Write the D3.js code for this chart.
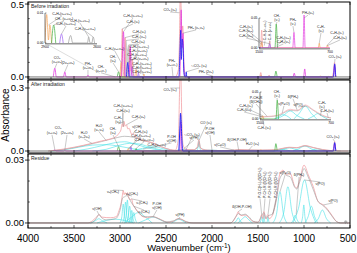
<!DOCTYPE html>
<html>
<head>
<meta charset="utf-8">
<script src="https://cdn.jsdelivr.net/npm/d3@7"></script>
<style>
body { margin: 0; background: #fff; }
svg { display: block; }
</style>
</head>
<body>
<script>
// ---- Before irradiation (wavenumber, absorbance) ----
var beforePink = [[3000,0],[2985,0.06],[2975,0.33],[2965,0.05],[2952,0],[2945,0.27],[2935,0.05],[2905,0.03],[2890,0.2],[2880,0.04],[2865,0.12],[2855,0.02],[2840,0],
  [2400,0],[2365,0.05],[2352,0.3],[2345,0.56],[2338,0.52],[2330,0.3],[2318,0.35],[2305,0.08],[2290,0],[2000,0],[1990,0.005],[1980,0],
  [1482,0],[1470,0.03],[1458,0],[1392,0],[1380,0.012],[1368,0],[700,0],[680,0.03],[668,0.1],[660,0.03],[650,0]];
var beforeMagenta = [[3725,0],[3708,0.06],[3692,0],[3615,0],[3600,0.035],[3585,0],[3360,0],[3348,0.013],[3336,0],
  [2985,0],[2962,0.31],[2950,0.06],[2940,0],[2900,0],[2888,0.21],[2876,0.03],[2860,0],
  [2350,0],[2335,0.46],[2326,0.2],[2316,0.3],[2305,0.05],[2295,0],[1120,0],[1106,0.026],[1092,0],[1005,0],[992,0.055],[980,0],[680,0],[668,0.08],[656,0]];
var beforeBlue = [[2930,0],[2915,0.1],[2900,0],[2360,0],[2348,0.18],[2340,0.32],[2333,0.12],[2324,0.26],[2314,0.2],[2305,0.03],[2295,0],
  [2286,0],[2280,0.035],[2274,0],[680,0],[667,0.09],[655,0]];
var beforeGreen = [[3030,0],[3015,0.035],[3000,0],[1320,0],[1306,0.04],[1292,0]];
var beforeOrange = [[3000,0],[2988,0.1],[2978,0],[2840,0],[2828,0.05],[2815,0],[2750,0],[2740,0.02],[2730,0],
  [1482,0],[1470,0.01],[1458,0],[832,0],[821,0.008],[810,0],[740,0],[730,0.005],[720,0]];
var beforePurple = [[2880,0],[2868,0.07],[2855,0],[2810,0],[2800,0.03],[2790,0],[1392,0],[1380,0.007],[1368,0]];
var beforeGray = [[2955,0],[2935,0.25],[2920,0.18],[2905,0.22],[2890,0]];

// left inset of the first panel
var insetOrange = [[2900,0],[2890,0.0095],[2880,0.001],[2872,0.006],[2862,0]];
var insetGreen = [[2862,0],[2850,0.006],[2838,0]];
var insetPurple = [[2815,0],[2805,0.003],[2795,0]];
var insetGray = [[2765,0],[2752,0.0025],[2740,0],[2655,0],[2648,0.002],[2640,0],[2630,0],[2622,0.002],[2614,0]];

// ---- After irradiation ----
var afterRed = [[3780,0],[3700,0.004],[3600,0.01],[3500,0.018],[3400,0.027],[3300,0.037],[3200,0.048],[3100,0.058],[3040,0.07],[3010,0.085],
  [2990,0.1],[2975,0.13],[2965,0.115],[2955,0.14],[2945,0.118],[2930,0.125],[2915,0.105],[2900,0.108],[2885,0.09],[2870,0.078],[2855,0.085],
  [2840,0.07],[2800,0.06],[2750,0.05],[2700,0.045],[2650,0.04],[2600,0.03],[2550,0.02],[2500,0.012],[2450,0.006],[2400,0.004],
  [2365,0.06],[2352,0.3],[2345,0.4],[2338,0.36],[2328,0.15],[2315,0.03],[2290,0.01],[2250,0.006],[2200,0.006],[2160,0.02],[2142,0.055],
  [2130,0.02],[2100,0.006],[2050,0.004],[2000,0.003],[1900,0.002],[1800,0.003],[1750,0.005],[1720,0.007],[1650,0.006],[1600,0.005],
  [1500,0.004],[1400,0.005],[1300,0.007],[1250,0.011],[1160,0.018],[1080,0.016],[990,0.026],[900,0.017],[850,0.012],[750,0.004],
  [700,0.002],[680,0.01],[667,0.045],[655,0.01],[640,0],[520,0]];
var afterGray = [[3780,0],[3600,0.008],[3400,0.025],[3200,0.045],[3050,0.062],[2950,0.07],[2850,0.065],[2750,0.05],[2650,0.038],[2550,0.02],
  [2450,0.006],[2400,0.002],[2300,0.006],[2200,0.006],[2150,0.02],[2140,0.045],[2125,0.015],[2050,0.004],[1900,0.002],[1750,0.004],
  [1700,0.006],[1600,0.005],[1450,0.004],[1300,0.006],[1160,0.016],[1080,0.015],[990,0.024],[900,0.016],[800,0.006],[700,0.002],[600,0]];
var afterBlue = [[2360,0],[2348,0.12],[2342,0.18],[2336,0.15],[2328,0.06],[2318,0],[680,0],[667,0.04],[655,0]];
var afterMagenta = [[3720,0],[3708,0.006],[3696,0],[3612,0],[3600,0.004],[3588,0],[2350,0],[2340,0.14],[2330,0],[680,0],[667,0.035],[655,0]];
var afterPurple = [[2890,0],[2880,0.02],[2870,0],[2290,0],[2280,0.008],[2270,0]];
var afterGreen = [[3030,0],[3015,0.02],[3000,0],[2835,0],[2825,0.012],[2815,0],[1320,0],[1306,0.035],[1292,0]];
var afterOrange = [[2920,0],[2910,0.012],[2900,0],[1482,0],[1470,0.006],[1458,0]];
var afterCyan = [
  [[3750,0],[3600,0.006],[3450,0.018],[3300,0.028],[3150,0.03],[3000,0.022],[2850,0.01],[2700,0.002],[2600,0]],
  [[3500,0],[3350,0.01],[3200,0.025],[3050,0.04],[2950,0.044],[2850,0.035],[2700,0.015],[2550,0.003],[2450,0]],
  [[3300,0],[3150,0.008],[3000,0.028],[2900,0.036],[2800,0.034],[2700,0.022],[2600,0.01],[2500,0.002],[2420,0]],
  [[2900,0],[2800,0.008],[2700,0.018],[2620,0.02],[2540,0.012],[2450,0.003],[2380,0]],
  [[2420,0],[2370,0.004],[2320,0.006],[2270,0.004],[2220,0]],
  [[2170,0],[2155,0.012],[2142,0.048],[2130,0.012],[2115,0]],
  [[2100,0],[2050,0.003],[2000,0.004],[1950,0.003],[1900,0]],
  [[1780,0],[1740,0.003],[1710,0.005],[1680,0.003],[1640,0]],
  [[1340,0],[1290,0.004],[1250,0.008],[1200,0.006],[1150,0]],
  [[1320,0],[1240,0.006],[1160,0.015],[1080,0.006],[1000,0]],
  [[1120,0],[1060,0.01],[990,0.024],[920,0.01],[860,0]],
  [[960,0],[900,0.005],[850,0.01],[800,0.005],[740,0]]
];

// ---- Residue ----
var residueRed = [[4000,0],[3350,0],[3300,0.001],[3240,0.0035],[3225,0.004],[3200,0.0028],[3100,0.0025],[3040,0.003],[3010,0.006],[2990,0.009],
  [2975,0.013],[2965,0.0155],[2955,0.0135],[2945,0.0145],[2930,0.0135],[2918,0.0145],[2905,0.012],[2890,0.011],[2875,0.0115],[2860,0.009],
  [2840,0.0075],[2800,0.005],[2750,0.003],[2700,0.0025],[2650,0.003],[2600,0.0025],[2550,0.0015],[2480,0.0003],[2420,0.0008],[2370,0.002],
  [2330,0.0018],[2280,0.0005],[2200,0],[1800,0],[1760,0.0015],[1730,0.004],[1714,0.0054],[1700,0.004],[1670,0.0035],[1640,0.0038],
  [1600,0.0025],[1560,0.0008],[1500,0.0003],[1475,0.002],[1460,0.004],[1448,0.002],[1435,0.0055],[1420,0.002],[1392,0.004],[1380,0.002],
  [1340,0.004],[1300,0.012],[1261,0.0237],[1228,0.0252],[1188,0.0229],[1152,0.0237],[1098,0.0173],[1080,0.0167],[1043,0.0214],[1000,0.0276],
  [953,0.0229],[899,0.0173],[845,0.0101],[790,0.0086],[753,0.007],[699,0.0038],[645,0.0006],[600,0],[500,0]];
var residueGray = [[4000,0],[3320,0],[3260,0.002],[3230,0.004],[3200,0.0025],[3150,0.0015],[3050,0.002],[3000,0.006],[2970,0.012],[2950,0.0125],
  [2930,0.013],[2910,0.0125],[2880,0.01],[2850,0.008],[2800,0.005],[2750,0.0032],[2700,0.003],[2640,0.003],[2580,0.002],[2500,0.0005],
  [2420,0.001],[2360,0.002],[2300,0.001],[2220,0],[1800,0],[1740,0.003],[1714,0.0045],[1680,0.0038],[1640,0.0042],[1600,0.003],[1550,0.0008],
  [1500,0.0004],[1460,0.0035],[1435,0.005],[1410,0.002],[1390,0.0035],[1350,0.004],[1300,0.011],[1260,0.0215],[1220,0.0235],[1180,0.0225],
  [1150,0.022],[1100,0.017],[1080,0.0162],[1040,0.0205],[1000,0.026],[960,0.0225],[900,0.016],[850,0.0105],[800,0.0085],[750,0.0065],
  [700,0.0035],[640,0.0005],[600,0],[560,0],[555,0.001],[550,-0.0005],[545,0.0012],[540,0],[535,0.0008],[530,-0.0004],[520,0]];
var residueCyan = [
  [[3320,0],[3270,0.001],[3230,0.002],[3190,0.001],[3140,0]],
  [[3250,0],[3150,0.0012],[3050,0.0018],[2950,0.0012],[2850,0]],
  [[3000,0],[2980,0.003],[2965,0.009],[2950,0.003],[2935,0]],
  [[2975,0],[2955,0.003],[2940,0.01],[2925,0.003],[2905,0]],
  [[2955,0],[2935,0.003],[2920,0.011],[2905,0.003],[2885,0]],
  [[2930,0],[2910,0.003],[2895,0.008],[2880,0.003],[2860,0]],
  [[2900,0],[2885,0.002],[2872,0.006],[2858,0.002],[2840,0]],
  [[2880,0],[2865,0.002],[2850,0.005],[2835,0.002],[2815,0]],
  [[2950,0],[2870,0.003],[2800,0.005],[2730,0.003],[2650,0]],
  [[2800,0],[2720,0.0015],[2640,0.0028],[2560,0.0015],[2480,0]],
  [[2440,0],[2400,0.001],[2360,0.0018],[2320,0.001],[2280,0]],
  [[1760,0],[1735,0.001],[1714,0.0025],[1695,0.001],[1670,0]],
  [[1720,0],[1680,0.0015],[1640,0.003],[1600,0.0015],[1560,0]],
  [[1480,0],[1470,0.001],[1460,0.003],[1450,0.001],[1440,0]],
  [[1450,0],[1442,0.001],[1435,0.004],[1428,0.001],[1420,0]],
  [[1405,0],[1398,0.001],[1391,0.003],[1384,0.001],[1375,0]],
  [[1340,0],[1300,0.004],[1261,0.0149],[1222,0.004],[1185,0]],
  [[1270,0],[1220,0.005],[1175,0.0173],[1130,0.005],[1080,0]],
  [[1140,0],[1115,0.0015],[1095,0.0038],[1075,0.0015],[1050,0]],
  [[1120,0],[1060,0.007],[995,0.0205],[930,0.007],[870,0]],
  [[1030,0],[1015,0.003],[1002,0.0086],[990,0.003],[975,0]],
  [[990,0],[955,0.003],[920,0.008],[885,0.003],[850,0]],
  [[890,0],[845,0.002],[800,0.0062],[755,0.002],[710,0]]
];

// ---- band assignments: [text, label wavenumber, label absorbance, target wavenumber, target absorbance] ----
var beforeNotes = [
  ["CO₂\n(ν₁+ν₃)", 3685, 0.12, 3708, 0.06], ["(2ν₂+ν₃)", 3565, 0.1, 3600, 0.035],
  ["PH₃\n(ν₂+ν₄)", 3348, 0.075, 3348, 0.013], ["CH₄\n(ν₂+ν₄)", 3206, 0.055, 3050, 0],
  ["CH₄\n(ν₃)", 3076, 0.123, 3015, 0.035], ["C₂H₆(ν₂+ν₁₁)", 3060, 0.195, 2988, 0.1],
  ["C₂H₆(ν₇+ν₁₁)", 2859, 0.418, 2962, 0.31], ["C₂H₆(ν₇)", 2859, 0.377, 2975, 0.33],
  ["C₂H₆(ν₁)", 2793, 0.308, 2945, 0.27], ["C₂H₄(ν₁₁)", 2793, 0.274, 2935, 0.25],
  ["C₂H₆(ν₅)", 2803, 0.24, 2905, 0.22], ["C₂H₆(ν₈+ν₁₁)", 2793, 0.209, 2888, 0.21],
  ["C₂H₆(ν₂+ν₈)", 2803, 0.178, 2865, 0.12], ["C₂H₄(ν₂+ν₁₂)", 2814, 0.15, 2915, 0.1],
  ["C₂H₆(ν₃+ν₈)", 2793, 0.123, 2868, 0.07], ["C₂H₆(ν₈+ν₁₁)", 2761, 0.089, 2828, 0.05],
  ["C₂H₄(ν₂+ν₁₂)", 2761, 0.062, 2800, 0.03], ["C₂H₆(ν₂+ν₁₁)", 2761, 0.034, 2740, 0.02],
  ["CO₂ (ν₃)", 2456, 0.459, 2352, 0.44], ["PH₃ (ν₁,ν₃)", 2174, 0.336, 2316, 0.3],
  ["PH₃\n(ν₂+ν₄)", 2435, 0.096, 2424, 0.003], ["¹³CO₂ (ν₃)", 2141, 0.075, 2280, 0.035],
  ["PH₃ (2ν₂)", 2065, 0.034, 1990, 0.005], ["CO₂ (ν₂)", 663, 0.137, 667, 0.1]
];
var insetLeftNotes = [
  ["C₂H₆(ν₂+ν₁₁)", 2802, 0.0097, 2880, 0.006], ["CH₄ (ν₂+ν₄)", 2790, 0.008, 2850, 0.006],
  ["C₂H₄(ν₂+ν₁₂)", 2779, 0.0063, 2805, 0.003], ["C₂H₄(ν₁+ν₁₂)", 2698, 0.0073, 2648, 0.002],
  ["C₂H₆(ν₁₁+ν₁₂)", 2669, 0.0047, 2622, 0.002]
];
var insetRightNotes = [
  ["C₂H₆(ν₆)", 1646, 0.035, 1470, 0.01], ["C₂H₄(ν₁₂)", 1646, 0.028, 1465, 0.006],
  ["C₂H₆(ν₁₁)", 1646, 0.02, 1380, 0.007], ["CH₄\n(ν₄)", 1297, 0.05, 1306, 0.04],
  ["C₂H₆(ν₁₂)", 1225, 0.017, 1300, 0.004], ["C₂H₆(ν₆)", 1225, 0.01, 1300, 0.002],
  ["PH₃\n(ν₄)", 1117, 0.043, 1106, 0.026], ["PH₃(ν₂)", 948, 0.058, 992, 0.05],
  ["C₂H₄\n(ν₇)", 801, 0.032, 821, 0.008], ["C₂H₆(ν₉)", 621, 0.025, 730, 0.005],
  ["C₂H₂(ν₅)", 587, 0.0167, 730, 0.004]
];
var insetRightRot = [["C₂H₆(ν₄+ν₁₂)", 1432, 0.013, 1440, 0.004], ["C₂H₄(ν₇+ν₈)", 1376, 0.013, 1380, 0.006]];
var afterNotes = [
  ["CO₂", 3674, 0.11, null, null], ["(ν₁+ν₃)", 3739, 0.086, 3708, 0.006], ["(2ν₂+ν₃)", 3576, 0.086, 3600, 0.004],
  ["H₂O\n(ν₁,2ν₂)", 3390, 0.076, 3300, 0.035], ["H₂O\n(ν₁,ν₃)", 3228, 0.11, 3150, 0.05],
  ["CH₄\n(ν₃)", 3076, 0.095, 3015, 0.02], ["C₂H₆\n(ν₂)", 3022, 0.148, 2955, 0.14],
  ["C₂H₆(ν₁+ν₁₁)", 2967, 0.214, 2975, 0.13], ["C₂H₆(ν₇)", 2967, 0.19, 2965, 0.115],
  ["C₂H₆(ν₅)", 2800, 0.165, 2930, 0.125], ["ν(OH)", 2815, 0.114, 2855, 0.085],
  ["C₂H₆(ν₁)", 2772, 0.092, 2900, 0.01], ["C₂H₄(ν₂+ν₁₂)", 2772, 0.073, 2910, 0.012],
  ["C₂H₆(ν₈+ν₁₁)", 2735, 0.055, 2825, 0.012], ["C₂H₆(ν₂+ν₆)", 2600, 0.03, 2750, 0.01],
  ["P-OH\nν(OH)", 2440, 0.057, 2620, 0.02], ["CO₂ (ν₃)", 2456, 0.29, 2350, 0.3],
  ["¹³CO₂ (ν₃)", 2217, 0.076, 2280, 0.008], ["ν(PH)", 2196, 0.062, 2320, 0.006],
  ["CO (ν₁)", 2065, 0.133, 2142, 0.05], ["P-OH\nν(OH)", 2022, 0.095, 2000, 0.004],
  ["ν(C=O)", 1913, 0.029, 1760, 0.004], ["δ(OH-P-OH)", 1728, 0.055, 1710, 0.005],
  ["H₂O (ν₂)", 1560, 0.034, 1600, 0.005], ["CO₂ (ν₂)", 685, 0.067, 667, 0.045]
];
var afterInsetNotes = [
  ["C₂H₆(ν₆)", 1658, 0.024, 1470, 0.006], ["C₂H₆(ν₁₁)", 1680, 0.0167, 1470, 0.004],
  ["P-CH₂R\n(δ(CH₂))", 1545, 0.035, 1420, 0.005], ["CH₄\n(ν₄)", 1308, 0.046, 1306, 0.035],
  ["ν(P=O)", 1230, 0.028, 1250, 0.011], ["δ(PH₂)", 1128, 0.041, 1080, 0.016],
  ["ν(PO)", 1072, 0.026, 990, 0.024], ["C₂H₆\n(ν₉)", 801, 0.026, 821, 0.006],
  ["C₂H₂(ν₅)", 745, 0.015, 730, 0.002], ["C₂H₄(ν₇)", 1455, -0.016, 1470, 0]
];
var residueNotes = [
  ["ν(OH)", 3250, 0.0067, 3230, 0.004], ["νₐ(CH₃)", 3076, 0.0148, 2965, 0.0155],
  ["νₐ(CH₂)", 2870, 0.0138, 2930, 0.0135], ["νₛ(CH₃)", 2761, 0.0095, 2875, 0.0115],
  ["νₛ(CH₂)", 2739, 0.0052, 2850, 0.008], ["P-OH\nν(OH)", 2598, 0.0081, 2640, 0.003],
  ["ν(PH)", 2348, 0.0038, 2360, 0.002], ["δ(OH-P-OH)", 1674, 0.0076, 1714, 0.0054],
  ["ν(P=O)", 1206, 0.0238, 1261, 0.0149], ["δ(PH₂)", 1054, 0.0229, 1085, 0.004],
  ["ν(PO)", 826, 0.0186, 995, 0.0205], ["ν(PO)", 685, 0.0105, 790, 0.0086]
];
var residueRot = [
  ["P-O-C(H₂)₂(δ(CH₂))", 1478, 0.0119, 1460, 0.004], ["P-CH₂R (δ(CH₂))", 1424, 0.0119, 1435, 0.0055],
  ["P-CH₂R (δ(CH₃))", 1369, 0.0119, 1391, 0.004], ["P-CH₂R (δ(CH₂))", 1304, 0.0119, 1340, 0.004]
];

var xTicks = [4000, 3500, 3000, 2500, 2000, 1500, 1000, 500];

var pink = "#f3a1a6", magenta = "#e23be0", blue = "#2626f2", green = "#3cae3c",
    orange = "#f4a256", purple = "#9a5cf0", gray = "#9a9a9a", cyan = "#45e0e6";

var W = 357, H = 253;
var svg = d3.select("body").append("svg")
  .attr("width", W).attr("height", H)
  .style("font-family", '"Liberation Sans", Arial, sans-serif');
var defs = svg.append("defs");

var x = d3.scaleLinear().domain([4000, 500]).range([28, 350]);

var panels = [
  {top: 2, bottom: 79, dom: [-0.014, 0.514], labels: [0, 0.5], fmt: ".1f", minor: 0.1, title: "Before irradiation"},
  {top: 80, bottom: 153, dom: [-0.0095, 0.338], labels: [0, 0.3], fmt: ".1f", minor: 0.1, title: "After irradiation"},
  {top: 154, bottom: 228, dom: [-0.0024, 0.0329], labels: [0, 0.03], fmt: ".2f", minor: 0.01, title: "Residue"}
];
panels.forEach(function(p) { p.y = d3.scaleLinear().domain(p.dom).range([p.bottom, p.top]); });

var clipN = 0;
function clipped(x0, y0, x1, y1) {
  var id = "clip" + (clipN++);
  defs.append("clipPath").attr("id", id).append("rect")
    .attr("x", x0).attr("y", y0).attr("width", x1 - x0).attr("height", y1 - y0);
  return svg.append("g").attr("clip-path", "url(#" + id + ")");
}

function trace(g, data, xs, ys, color, sw) {
  g.append("path").datum(data)
    .attr("d", d3.line().x(function(d) { return xs(d[0]); }).y(function(d) { return ys(d[1]); }).curve(d3.curveMonotoneX))
    .attr("fill", "none").attr("stroke", color).attr("stroke-width", sw || 0.7);
}

function notes(list, xs, ys, rot) {
  var fs = 3.5, lh = 3.9;
  list.forEach(function(n) {
    var lx = xs(n[1]), ly = ys(n[2]);
    if (rot) {
      if (n[3] != null) svg.append("line").attr("x1", lx).attr("y1", ly + 0.5).attr("x2", xs(n[3])).attr("y2", ys(n[4]))
        .attr("stroke", "#777").attr("stroke-width", 0.4);
      svg.append("text").attr("transform", "translate(" + lx + "," + ly + ") rotate(-90)")
        .attr("x", 0).attr("y", fs * 0.35).attr("font-size", fs).attr("fill", "#222").text(n[0]);
      return;
    }
    var lines = n[0].split("\n");
    var half = lines.length * lh / 2;
    if (n[3] != null) {
      var ty = ys(n[4]);
      var sy = ty > ly ? ly + half : ly - half;
      svg.append("line").attr("x1", lx).attr("y1", sy).attr("x2", xs(n[3])).attr("y2", ty)
        .attr("stroke", "#777").attr("stroke-width", 0.4);
    }
    var t = svg.append("text").attr("font-size", fs).attr("fill", "#222").attr("text-anchor", "middle");
    lines.forEach(function(s, i) {
      t.append("tspan").attr("x", lx).attr("y", ly - half + lh * (i + 0.5) + fs * 0.35).text(s);
    });
  });
}

function insetAxes(x0, x1, y0, y1, ylab, xlab) {
  svg.append("line").attr("x1", x0).attr("x2", x1).attr("y1", y1 + 0.7).attr("y2", y1 + 0.7)
    .attr("stroke", "#999").attr("stroke-width", 1.4);
  svg.append("line").attr("x1", x0).attr("x2", x0).attr("y1", y0).attr("y2", y1)
    .attr("stroke", "#000").attr("stroke-width", 0.5);
  [y0, y1].forEach(function(yy, i) {
    svg.append("line").attr("x1", x0).attr("x2", x0 + 1.5).attr("y1", yy).attr("y2", yy).attr("stroke", "#000").attr("stroke-width", 0.4);
    svg.append("text").attr("x", x0 - 1.5).attr("y", yy + 1.2).attr("font-size", 3.4).attr("text-anchor", "end").text(ylab[i]);
  });
  [x0, x1].forEach(function(xx, i) {
    svg.append("text").attr("x", xx).attr("y", y1 + 5).attr("font-size", 3.4).attr("text-anchor", "middle").text(xlab[i]);
  });
}

// ---- panel 1: before irradiation ----
var p1 = panels[0], g1 = clipped(28, p1.top, 350, p1.bottom);
g1.append("path").datum(beforeGray)
  .attr("d", d3.area().x(function(d) { return x(d[0]); }).y0(p1.y(0)).y1(function(d) { return p1.y(d[1]); }).curve(d3.curveMonotoneX))
  .attr("fill", "#d2d2d2").attr("stroke", "#aaa").attr("stroke-width", 0.4);
trace(g1, beforePink, x, p1.y, pink, 0.9);
trace(g1, beforeOrange, x, p1.y, orange);
trace(g1, beforeGreen, x, p1.y, green);
trace(g1, beforePurple, x, p1.y, purple);
trace(g1, beforeMagenta, x, p1.y, magenta, 0.8);
trace(g1, beforeBlue, x, p1.y, blue, 0.9);

// left inset
var il = {x: d3.scaleLinear().domain([2900, 2600]).range([45, 97]), y: d3.scaleLinear().domain([0, 0.01]).range([43, 13])};
svg.append("line").attr("x1", 45).attr("y1", 43).attr("x2", x(3220)).attr("y2", p1.y(0.025))
  .attr("stroke", "#aaa").attr("stroke-width", 0.4);
var gil = clipped(45, 10, 97, 43);
trace(gil, insetGray, il.x, il.y, gray);
trace(gil, insetOrange, il.x, il.y, orange);
trace(gil, insetGreen, il.x, il.y, green);
trace(gil, insetPurple, il.x, il.y, purple);
insetAxes(45, 97, 13, 43, ["0.01", "0.00"], ["2900", "2600"]);
notes(insetLeftNotes, il.x, il.y);

// right inset
var ir = {x: d3.scaleLinear().domain([1500, 700]).range([259, 330]), y: d3.scaleLinear().domain([0, 0.05]).range([48, 18])};
var gir = clipped(259, 14, 330, 48);
trace(gir, beforePink, ir.x, ir.y, pink);
trace(gir, beforeOrange, ir.x, ir.y, orange);
trace(gir, beforeGreen, ir.x, ir.y, green);
trace(gir, beforePurple, ir.x, ir.y, purple);
trace(gir, beforeMagenta, ir.x, ir.y, magenta);
insetAxes(259, 330, 18, 48, ["0.05", "0.00"], ["1500", "700"]);
notes(insetRightNotes, ir.x, ir.y);
notes(insetRightRot, ir.x, ir.y, true);
notes(beforeNotes, x, p1.y);

// ---- panel 2: after irradiation ----
var p2 = panels[1], g2 = clipped(28, p2.top, 350, p2.bottom);
afterCyan.forEach(function(c) { trace(g2, c, x, p2.y, cyan, 0.6); });
trace(g2, afterGray, x, p2.y, gray, 0.6);
trace(g2, afterRed, x, p2.y, pink, 0.8);
trace(g2, afterOrange, x, p2.y, orange);
trace(g2, afterGreen, x, p2.y, green);
trace(g2, afterPurple, x, p2.y, purple);
trace(g2, afterMagenta, x, p2.y, magenta);
trace(g2, afterBlue, x, p2.y, blue, 1);

var ia = {x: d3.scaleLinear().domain([1500, 700]).range([260, 331]), y: d3.scaleLinear().domain([0, 0.05]).range([119, 92])};
var gia = clipped(260, 89, 331, 119);
afterCyan.forEach(function(c) { trace(gia, c, ia.x, ia.y, cyan, 0.6); });
trace(gia, afterGray, ia.x, ia.y, gray, 0.5);
trace(gia, afterRed, ia.x, ia.y, pink, 0.6);
trace(gia, afterOrange, ia.x, ia.y, orange);
trace(gia, afterGreen, ia.x, ia.y, green);
insetAxes(260, 331, 92, 119, ["0.05", "0.00"], ["1500", "700"]);
notes(afterInsetNotes, ia.x, ia.y);
notes(afterNotes, x, p2.y);

// ---- panel 3: residue ----
var p3 = panels[2], g3 = clipped(28, p3.top, 350, p3.bottom);
residueCyan.forEach(function(c) { trace(g3, c, x, p3.y, cyan, 0.6); });
trace(g3, residueRed, x, p3.y, pink, 0.8);
trace(g3, residueGray, x, p3.y, gray, 0.6);
notes(residueNotes, x, p3.y);
notes(residueRot, x, p3.y, true);

// ---- frames, ticks, labels ----
panels.forEach(function(p) {
  svg.append("line").attr("x1", 28).attr("x2", 350).attr("y1", p.y(0)).attr("y2", p.y(0))
    .attr("stroke", "#666").attr("stroke-width", 0.9);
  svg.append("rect").attr("x", 28).attr("y", p.top).attr("width", 322).attr("height", p.bottom - p.top)
    .attr("fill", "none").attr("stroke", "#000").attr("stroke-width", 1);
  svg.append("text").attr("x", 31).attr("y", p.top + 6).attr("font-size", 5).attr("fill", "#222").text(p.title);
  d3.range(500, 4001, 250).forEach(function(v) {
    var len = v % 500 === 0 ? 3 : 1.8;
    svg.append("line").attr("x1", x(v)).attr("x2", x(v)).attr("y1", p.top).attr("y2", p.top + len).attr("stroke", "#000").attr("stroke-width", 0.6);
    svg.append("line").attr("x1", x(v)).attr("x2", x(v)).attr("y1", p.bottom).attr("y2", p.bottom - len).attr("stroke", "#000").attr("stroke-width", 0.6);
  });
  d3.range(0, p.dom[1], p.minor).forEach(function(v) {
    svg.append("line").attr("x1", 28).attr("x2", 29.8).attr("y1", p.y(v)).attr("y2", p.y(v)).attr("stroke", "#000").attr("stroke-width", 0.6);
  });
  p.labels.forEach(function(v) {
    svg.append("line").attr("x1", 25).attr("x2", 28).attr("y1", p.y(v)).attr("y2", p.y(v)).attr("stroke", "#000").attr("stroke-width", 0.8);
    svg.append("text").attr("x", 24).attr("y", Math.max(p.y(v), 4.5)).attr("dy", "0.35em").attr("font-size", 9.5)
      .attr("text-anchor", "end").text(d3.format(p.fmt)(v));
  });
});

xTicks.forEach(function(v) {
  svg.append("text").attr("x", Math.min(x(v), W - 9)).attr("y", 241.5).attr("font-size", 10).attr("text-anchor", "middle").text(v);
});

var xt = svg.append("text").attr("x", 189).attr("y", 251.3).attr("font-size", 9.5).attr("text-anchor", "middle");
xt.append("tspan").text("Wavenumber (cm");
xt.append("tspan").attr("dy", -3.5).attr("font-size", 6.5).text("-1");
xt.append("tspan").attr("dy", 3.5).text(")");

svg.append("text").attr("transform", "translate(9,115) rotate(-90)")
  .attr("font-size", 10).attr("text-anchor", "middle").text("Absorbance");
</script>
</body>
</html>
